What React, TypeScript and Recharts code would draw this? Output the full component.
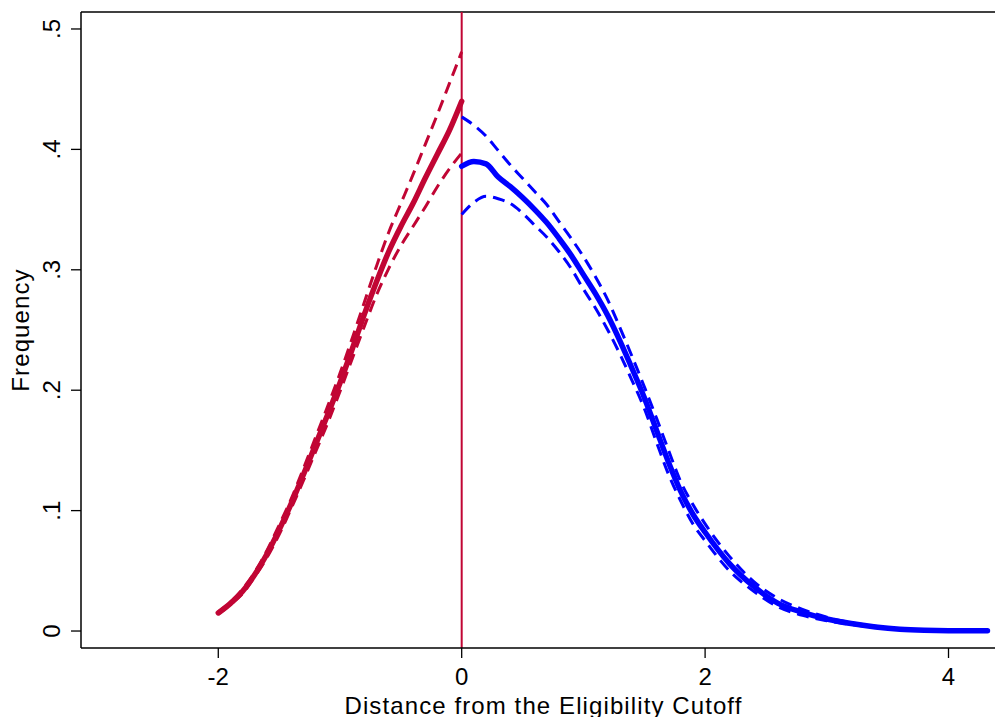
import React from "react";
import { LineChart, Line, XAxis, YAxis, ReferenceLine, Label } from "recharts";

// ---- data ----
const redX = [-2, -1.9, -1.8, -1.7, -1.6, -1.5, -1.4, -1.3, -1.2, -1.1, -1.0, -0.9, -0.8, -0.7, -0.6, -0.5, -0.4, -0.3, -0.2, -0.1, 0];
const redFit = [0.015, 0.023, 0.033, 0.047, 0.064, 0.084, 0.106, 0.13, 0.155, 0.18, 0.206, 0.234, 0.263, 0.29, 0.315, 0.336, 0.355, 0.376, 0.396, 0.416, 0.44];
const redUpper = [0.016, 0.024, 0.035, 0.049, 0.067, 0.088, 0.11, 0.135, 0.161, 0.187, 0.214, 0.243, 0.273, 0.303, 0.331, 0.355, 0.379, 0.404, 0.429, 0.455, 0.481];
const redLower = [0.014, 0.022, 0.031, 0.045, 0.061, 0.08, 0.102, 0.125, 0.149, 0.173, 0.199, 0.226, 0.253, 0.279, 0.301, 0.32, 0.336, 0.352, 0.369, 0.384, 0.397];

const blueX = [0, 0.1, 0.2, 0.3, 0.4, 0.5, 0.6, 0.7, 0.8, 0.9, 1.0, 1.1, 1.2, 1.3, 1.4, 1.5, 1.6, 1.7, 1.8, 1.9, 2.0, 2.2, 2.4, 2.6, 2.8, 3.0, 3.2, 3.4, 3.6, 3.8, 4.0, 4.2, 4.32];
const blueFit = [0.386, 0.39, 0.388, 0.377, 0.369, 0.36, 0.35, 0.339, 0.326, 0.312, 0.296, 0.28, 0.262, 0.241, 0.218, 0.194, 0.167, 0.14, 0.116, 0.097, 0.082, 0.056, 0.037, 0.023, 0.0155, 0.01, 0.0062, 0.0034, 0.0015, 0.0006, 0.0003, 0.0003, 0.0003];
const blueUpper = [0.427, 0.42, 0.411, 0.399, 0.387, 0.376, 0.365, 0.354, 0.34, 0.326, 0.311, 0.294, 0.275, 0.252, 0.228, 0.203, 0.177, 0.15, 0.124, 0.105, 0.089, 0.062, 0.041, 0.027, 0.018, 0.0115, 0.007, 0.0039, 0.0018, 0.0008, 0.0004, 0.0003, 0.0003];
const blueLower = [0.346, 0.356, 0.361, 0.359, 0.355, 0.347, 0.337, 0.327, 0.315, 0.301, 0.284, 0.268, 0.25, 0.23, 0.208, 0.185, 0.157, 0.13, 0.108, 0.089, 0.075, 0.05, 0.033, 0.02, 0.013, 0.0085, 0.0054, 0.0029, 0.0012, 0.0004, 0.0002, 0.0002, 0.0002];

const xTicks = [-2, 0, 2, 4];
const yTicks = [0, 0.1, 0.2, 0.3, 0.4, 0.5];
const yTickLabels = ["0", ".1", ".2", ".3", ".4", ".5"];
const cutoff = 0;

const X_MIN = -3.128;
const X_MAX = 4.382;
const Y_MIN = -0.0141;
const Y_MAX = 0.5141;

const toRows = (xs: number[], ys: number[]) => xs.map((x, i) => ({ x, y: ys[i] }));

const RED = "#C10534";
const BLUE = "#0000FF";
const FONT = "'Liberation Sans', Arial, Helvetica, sans-serif";

const YTick = (props: any) => {
  const { x, y, payload } = props;
  const tx = x - 9;
  const idx = yTicks.indexOf(payload.value);
  const label = idx >= 0 ? yTickLabels[idx] : String(payload.value);
  return (
    <text
      x={tx}
      y={y}
      transform={`rotate(-90 ${tx} ${y})`}
      textAnchor="middle"
      fontSize={24}
      fontFamily={FONT}
      fill="#000"
    >
      {label}
    </text>
  );
};

const XTick = (props: any) => {
  const { x, y, payload } = props;
  return (
    <text x={x} y={y + 25} textAnchor="middle" fontSize={24} fontFamily={FONT} fill="#000">
      {String(payload.value)}
    </text>
  );
};

export default function App() {
  return (
    <div style={{ width: 995, height: 717, background: "#fff" }}>
      <style>{`html,body{margin:0;padding:0;overflow:hidden;background:#fff}`}</style>
      <LineChart width={995} height={717} margin={{ top: 12, right: 0, bottom: 0, left: 0 }}>
        <XAxis
          type="number"
          dataKey="x"
          domain={[X_MIN, X_MAX]}
          ticks={xTicks}
          allowDataOverflow
          height={69}
          tickSize={10}
          tick={<XTick />}
          axisLine={{ stroke: "#000", strokeWidth: 1.5 }}
          tickLine={{ stroke: "#000", strokeWidth: 1.3 }}
        >
          <Label
            content={() => (
              <text x={543.5} y={714} textAnchor="middle" fontSize={24} letterSpacing={1.1} fontFamily={FONT} fill="#000">
                Distance from the Eligibility Cutoff
              </text>
            )}
          />
        </XAxis>
        <YAxis
          type="number"
          domain={[Y_MIN, Y_MAX]}
          ticks={yTicks}
          allowDataOverflow
          width={81}
          tickSize={10}
          tick={<YTick />}
          axisLine={{ stroke: "#000", strokeWidth: 1.5 }}
          tickLine={{ stroke: "#000", strokeWidth: 1.3 }}
        >
          <Label
            content={() => (
              <text
                x={29}
                y={330}
                transform={`rotate(-90 29 330)`}
                textAnchor="middle"
                fontSize={24}
                letterSpacing={1.1}
                fontFamily={FONT}
                fill="#000"
              >
                Frequency
              </text>
            )}
          />
        </YAxis>
        <ReferenceLine y={Y_MAX} stroke="#000" strokeWidth={1.5} />
        <ReferenceLine x={cutoff} stroke={RED} strokeWidth={2} />
        <Line data={toRows(redX, redUpper)} dataKey="y" type="monotone" stroke={RED} strokeWidth={3} strokeDasharray="12 7" dot={false} isAnimationActive={false} />
        <Line data={toRows(redX, redLower)} dataKey="y" type="monotone" stroke={RED} strokeWidth={3} strokeDasharray="12 7" dot={false} isAnimationActive={false} />
        <Line data={toRows(redX, redFit)} dataKey="y" type="monotone" stroke={RED} strokeWidth={5.5} strokeLinecap="round" dot={false} isAnimationActive={false} />
        <Line data={toRows(blueX, blueUpper)} dataKey="y" type="monotone" stroke={BLUE} strokeWidth={3} strokeDasharray="12 7" dot={false} isAnimationActive={false} />
        <Line data={toRows(blueX, blueLower)} dataKey="y" type="monotone" stroke={BLUE} strokeWidth={3} strokeDasharray="12 7" dot={false} isAnimationActive={false} />
        <Line data={toRows(blueX, blueFit)} dataKey="y" type="monotone" stroke={BLUE} strokeWidth={5.5} strokeLinecap="round" dot={false} isAnimationActive={false} />
      </LineChart>
    </div>
  );
}
